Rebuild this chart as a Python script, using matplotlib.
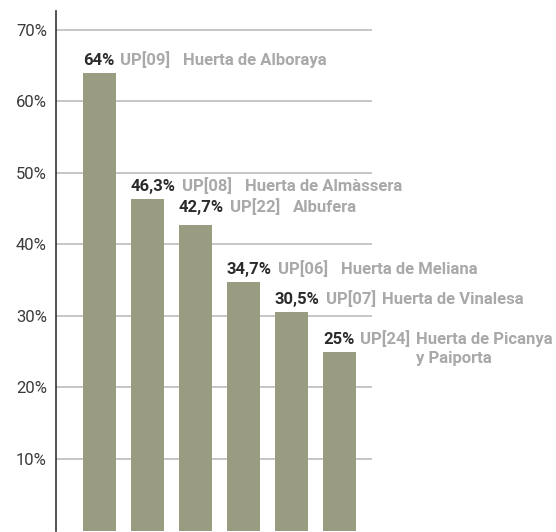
import matplotlib
matplotlib.use("Agg")
import matplotlib.pyplot as plt
from matplotlib.transforms import offset_copy

# porcentaje por unidad de paisaje
valores = [64, 46.3, 42.7, 34.7, 30.5, 25]
etiquetas = ["64%", "46,3%", "42,7%", "34,7%", "30,5%", "25%"]
codigos = ["UP[09]", "UP[08]", "UP[22]", "UP[06]", "UP[07]", "UP[24]"]
nombres = ["Huerta de Alboraya", "Huerta de Almàssera", "Albufera",
           "Huerta de Meliana", "Huerta de Vinalesa", "Huerta de Picanya\ny Paiporta"]
ticks = [10, 20, 30, 40, 50, 60, 70]

# separaciones en pixeles
alzas = [8, 8, 13, 8, 8, 8]      # base del texto sobre la barra
huecos = [13, 13, 13, 13, 6, 6]  # entre código y nombre
interlinea = 19

plt.rcParams["font.family"] = ["Roboto", "DejaVu Sans"]

W, H = 556, 532
fig = plt.figure(figsize=(W / 100, H / 100), dpi=100)
ax = fig.add_axes([56 / W, 1.4 / H, (372 - 56) / W, (531 - 1.4 - 10) / H])

ancho = 0.69
x = list(range(len(valores)))
ax.bar(x, valores, width=ancho, color="#999c80", zorder=2)

ax.set_xlim(-0.906, 5.677)
ax.set_ylim(0, 72.6)
ax.set_yticks(ticks)
ax.set_yticklabels([f"{t}%" for t in ticks], fontsize=12, color="#3a3a3a")
ax.set_xticks([])
ax.tick_params(axis="y", length=0, pad=6.5)
ax.grid(axis="y", color="#c6c6c6", linewidth=1.4, zorder=1)

for s in ["top", "right", "bottom"]:
    ax.spines[s].set_visible(False)
ax.spines["left"].set_color("#333333")
ax.spines["left"].set_linewidth(1.2)

r = fig.canvas.get_renderer()
estilo = dict(fontsize=12, fontweight="bold", ha="left", va="baseline",
              clip_on=False)

for i, v in enumerate(valores):
    x0 = i - ancho / 2
    dx = 0
    partes = [(etiquetas[i], "#2b2b2b", 0), (codigos[i], "#a9a9a9", 6),
              (nombres[i], "#a9a9a9", huecos[i])]
    for texto, color, sep in partes:
        dx += sep
        ancho_txt = 0
        for k, linea in enumerate(texto.split("\n")):
            tr = offset_copy(ax.transData, fig=fig, x=dx,
                             y=alzas[i] - k * interlinea, units="dots")
            t = ax.text(x0, v, linea, transform=tr, color=color, **estilo)
            ancho_txt = max(ancho_txt, t.get_window_extent(r).width)
        dx += ancho_txt

fig.savefig("out.png", dpi=100)
